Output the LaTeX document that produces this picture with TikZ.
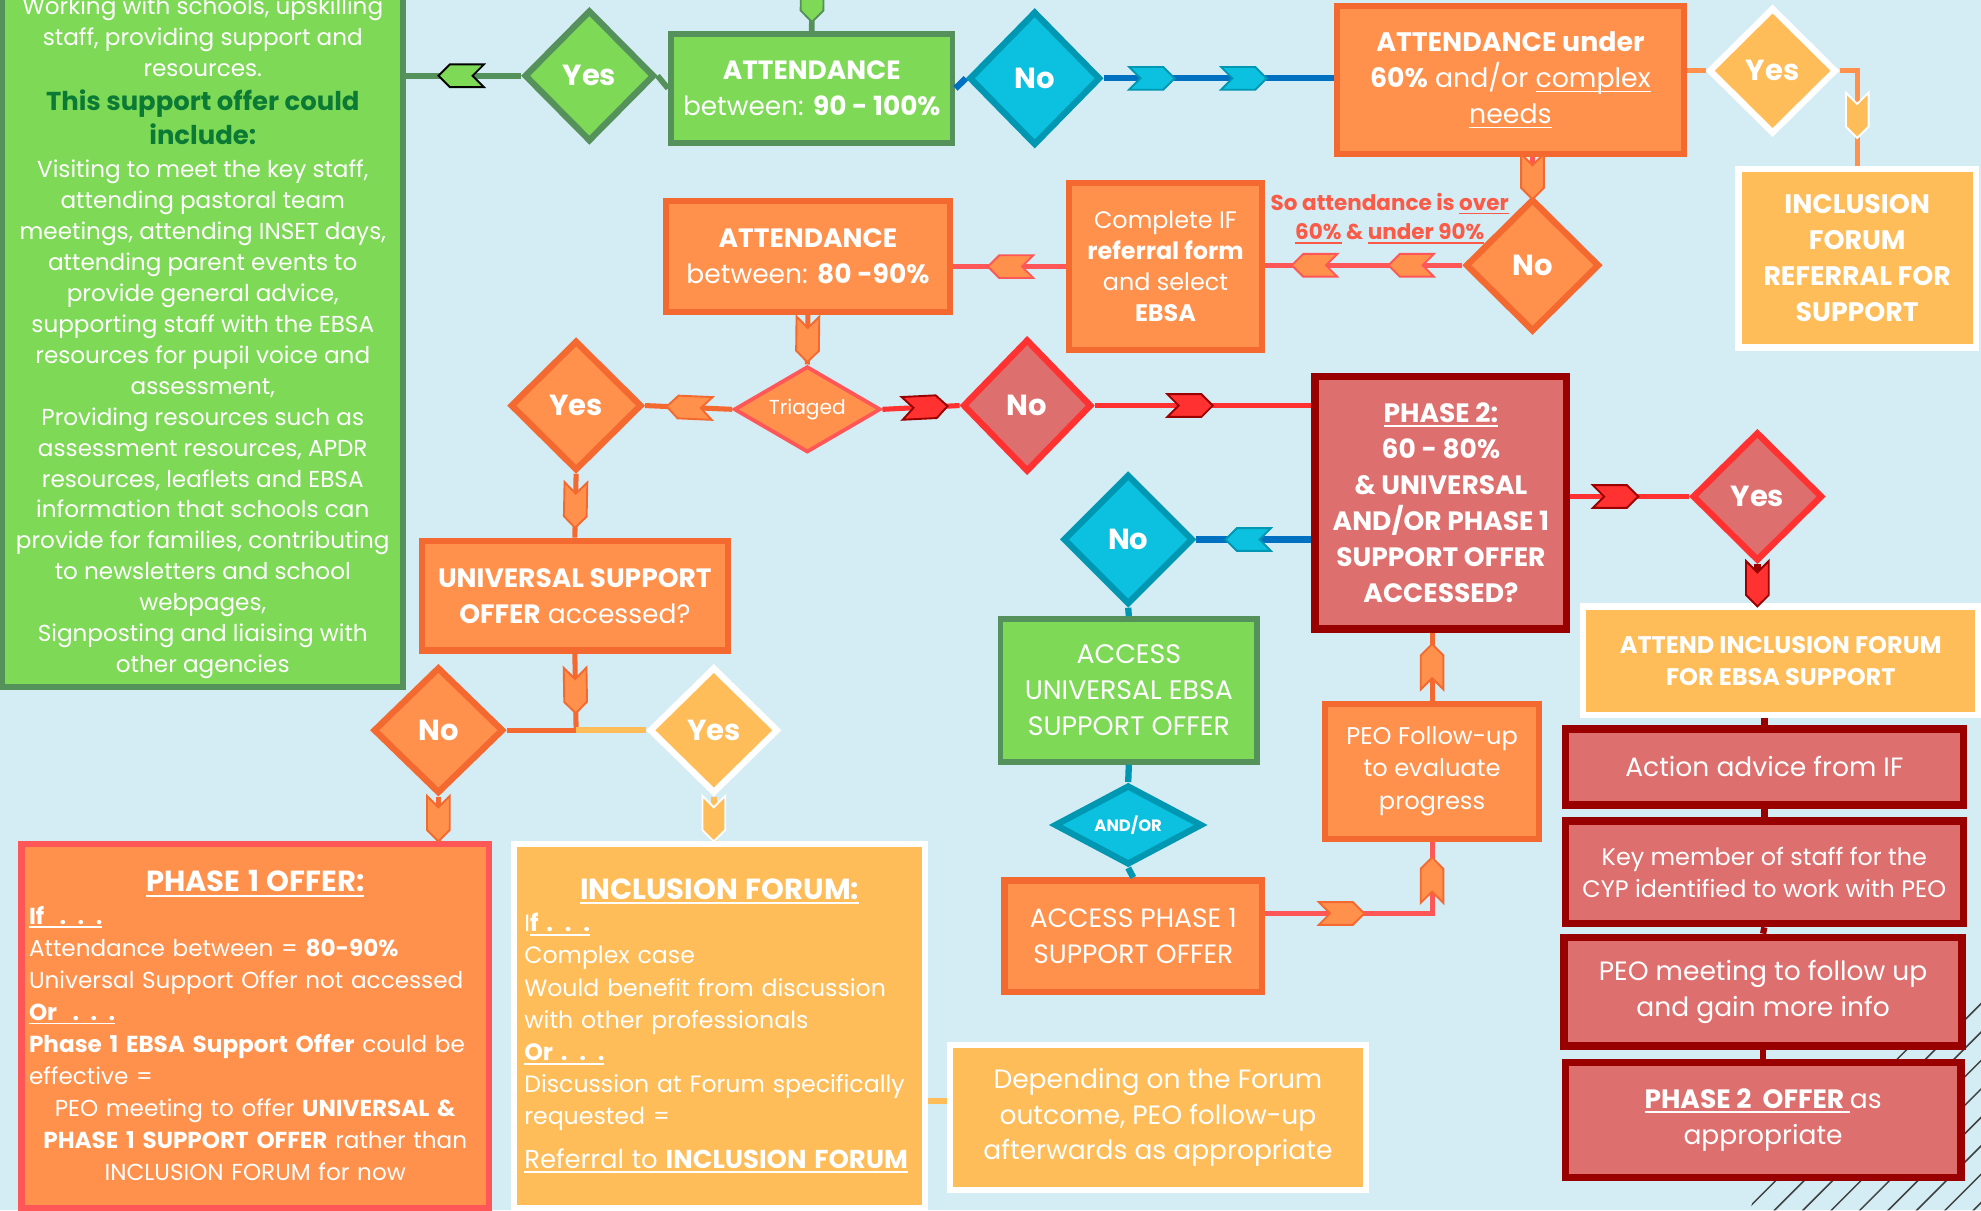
\documentclass[tikz,border=0pt]{standalone}
\usepackage{fontspec}
\setmainfont{Poppins}
\usepackage{xcolor}
\usetikzlibrary{shapes.geometric,decorations.markings}

\definecolor{bgB}{HTML}{D4ECF3}
\definecolor{grF}{HTML}{7ED957}
\definecolor{grD}{HTML}{55915B}
\definecolor{dkgT}{HTML}{0B7A35}
\definecolor{orF}{HTML}{FF914D}
\definecolor{orD}{HTML}{F4692F}
\definecolor{pkR}{HTML}{FF5757}
\definecolor{lblR}{HTML}{FA5A46}
\definecolor{yeF}{HTML}{FFBD59}
\definecolor{cyF}{HTML}{0CC0DF}
\definecolor{cyD}{HTML}{0097B2}
\definecolor{blL}{HTML}{0070C0}
\definecolor{rsF}{HTML}{DE6F6F}
\definecolor{rdB}{HTML}{FF3131}
\definecolor{dkR}{HTML}{990000}

\setlength\parindent{0pt}
\newcommand\fsz[2]{\fontsize{#1}{#2}\selectfont}
\newsavebox\ulbox
\newcommand\undl[1]{\leavevmode\sbox\ulbox{#1}\rlap{\vrule height -0.1em depth 0.17em width \wd\ulbox}\usebox\ulbox}
\newcommand\chevpath{\path[chev] (-18,-9) -- (9,-9) -- (18,0) -- (9,9) -- (-18,9) -- (-9,0) -- cycle;}

\begin{document}
\begin{tikzpicture}[x=1pt, y=-1pt,
    box/.style={rectangle, inner sep=0, align=center, text=white, font=\fsz{21}{28.5}},
    gbox/.style={box, fill=grF, draw=grD, line width=4.5},
    obox/.style={box, fill=orF, draw=orD, line width=5},
    ybox/.style={box, fill=yeF, draw=white, line width=5},
    rbox/.style={box, fill=rsF, draw=dkR, line width=6},
    dia/.style={diamond, inner sep=0, text=white, font=\fsz{23}{28}\bfseries, line width=5},
    gdia/.style={dia, fill=grF, draw=grD},
    bdia/.style={dia, fill=cyF, draw=cyD},
    odia/.style={dia, fill=orF, draw=orD},
    ydia/.style={dia, fill=yeF, draw=white},
    rdia/.style={dia, fill=rsF, draw=rdB},
    lbl/.style={align=center, inner sep=0, text=lblR, font=\fsz{17}{23}\bfseries},
    hatch/.style={draw=black!75, line width=1.2},
    chev/.style={fill=orF, draw=orD, line width=1.5},
    chv/.style={postaction={decorate,decoration={markings,mark=at position #1 with {\chevpath}}}},
    gline/.style={draw=grD, line width=4.5},
    bline/.style={draw=blL, line width=5},
    tline/.style={draw=cyD, line width=5},
    oline/.style={draw=orD, line width=4},
    lline/.style={draw=orF, line width=4},
    pline/.style={draw=pkR, line width=4},
    yline/.style={draw=yeF, line width=4.5},
    rline/.style={draw=rdB, line width=4},
    dline/.style={draw=dkR, line width=5},
    gchev/.style={chev/.style={fill=grF, draw=grD, line width=1.5}},
    kchev/.style={chev/.style={fill=grF, draw=black, line width=1.5}},
    cchev/.style={chev/.style={fill=cyF, draw=cyD, line width=1.5}},
    ochev/.style={chev/.style={fill=orF, draw=orD, line width=1.5}},
    pchev/.style={chev/.style={fill=orF, draw=pkR, line width=1.5}},
    ychev/.style={chev/.style={fill=yeF, draw=white, line width=1.5}},
    rchev/.style={chev/.style={fill=rdB, draw=dkR, line width=1.5}}
]
    \useasboundingbox (0,0) rectangle (1568,958);
    % background and corner hatching
    \fill[bgB] (0,0) rectangle (1568,958);
    \begin{scope}
        \clip (1442,789) -- (1568,789) -- (1568,958) -- (1385,958) -- cycle;
        \foreach \k in {0,...,18}
            \draw[hatch] (1370+\k*22.5,970) -- ++(220,-220);
    \end{scope}

    % left column
    \node[gbox, minimum width=317, minimum height=553, font=\fsz{18.3}{24.5}] (support) at (160.5,267.5) {Working with schools, upskilling\\staff, providing support and\\resources.\\[2.5pt]\textcolor{dkgT}{\fsz{20.5}{24.5}\bfseries This support offer could}\\[2.5pt]\textcolor{dkgT}{\fsz{20.5}{24.5}\bfseries include:}\\[1.5pt]Visiting to meet the key staff,\\attending pastoral team\\meetings, attending INSET days,\\attending parent events to\\provide general advice,\\supporting staff with the EBSA\\resources for pupil voice and\\assessment,\\Providing resources such as\\assessment resources, APDR\\resources, leaflets and EBSA\\information that schools can\\provide for families, contributing\\to newsletters and school\\webpages,\\Signposting and liaising with\\other agencies};

    % top row
    \node[gbox, minimum width=223, minimum height=86, font=\fsz{20.9}{28}] (att90) at (642.5,70) {\textbf{ATTENDANCE}\\between: \textbf{90 - 100\%}};
    \node[gdia, minimum width=103, minimum height=104] (yesG) at (466.5,60) {Yes};
    \node[bdia, minimum width=104, minimum height=106] (noT) at (819,62) {No};
    \node[obox, minimum width=275, minimum height=117, font=\fsz{21.2}{28.5}] (att60) at (1195.5,63.5) {\textbf{ATTENDANCE under}\\\textbf{60\%} and/or \undl{complex}\\\undl{needs}};
    \node[ydia, minimum width=101, minimum height=100] (yesT) at (1403,56) {Yes};
    \node[ybox, minimum width=188, minimum height=141, font=\fsz{21.2}{28.5}\bfseries] (incl) at (1470,204.5) {INCLUSION\\FORUM\\REFERRAL FOR\\SUPPORT};
    \coordinate (topin) at (643,-12);

    % second row
    \node[odia, minimum width=106, minimum height=105] (noR) at (1213,210) {No};
    \node[lbl] (soatt) at (1100,173) {So attendance is \undl{over}\\\undl{60\%} \& \undl{under 90\%}};
    \node[obox, minimum width=153, minimum height=132, font=\fsz{18.9}{24.5}] (referral) at (922.5,211) {Complete IF\\\textbf{referral form}\\and select\\\textbf{EBSA}};
    \node[obox, minimum width=225, minimum height=88, font=\fsz{21}{28.5}] (att80) at (639.5,203) {\textbf{ATTENDANCE}\\between: \textbf{80 -90\%}};

    % triage row
    \node[odia, draw=pkR, line width=3, aspect=1.7, minimum width=116, minimum height=68, font=\fsz{16}{20}] (tri) at (639,324) {Triaged};
    \node[odia, minimum width=104, minimum height=103] (yesL) at (456,321) {Yes};
    \node[rdia, minimum width=102, minimum height=105] (noM) at (813,321) {No};
    \node[obox, minimum width=242, minimum height=87] (univ) at (455,471.5) {\textbf{UNIVERSAL SUPPORT}\\\textbf{OFFER} accessed?};
    \node[odia, minimum width=103, minimum height=100] (noBL) at (347,578) {No};
    \node[ydia, minimum width=102, minimum height=100] (yesB) at (565,578) {Yes};
    \coordinate (split) at (456,578);

    % bottom left offers
    \node[obox, draw=pkR, minimum width=370, minimum height=288, text width=358, align=left, font=\fsz{18.3}{25.4}] (phase1) at (202,812) {{\centering\fsz{23}{30}\bfseries\undl{PHASE 1 OFFER:}\par}
        \textbf{\undl{If\ \ . . .}}\\
        Attendance between = \textbf{80-90\%}\\
        Universal Support Offer not accessed\\
        \textbf{\undl{Or\ \ . . .}}\\
        \textbf{Phase 1 EBSA Support Offer} could be\\
        effective =\par
        {\centering PEO meeting to offer \textbf{UNIVERSAL \&}\\
        \textbf{PHASE 1 SUPPORT OFFER} rather than\\
        INCLUSION FORUM for now\par}};
    \node[ybox, minimum width=325, minimum height=288, text width=309, align=left, font=\fsz{18.7}{25.5}] (forum) at (569.5,812) {{\centering\fsz{23}{30}\bfseries\undl{INCLUSION FORUM:}\par}
        I\textbf{\undl{f . . .}}\\
        Complex case\\
        Would benefit from discussion\\
        with other professionals\\
        \textbf{\undl{Or . . .}}\\
        Discussion at Forum specifically\\
        requested =\par
        \vspace{9pt}{\fsz{20.5}{25.5}\undl{Referral to \textbf{INCLUSION FORUM}}\par}};
    \node[ybox, minimum width=329, minimum height=115, font=\fsz{21}{28}] (depend) at (916.5,884.5) {Depending on the Forum\\outcome, PEO follow-up\\afterwards as appropriate};

    % phase 2 branch
    \node[rbox, minimum width=199, minimum height=200, font=\fsz{21}{28.5}\bfseries] (phase2) at (1140.5,398) {\undl{PHASE 2:}\\60 - 80\%\\\& UNIVERSAL\\AND/OR PHASE 1\\SUPPORT OFFER\\ACCESSED?};
    \node[bdia, minimum width=103, minimum height=103] (noC) at (893,427) {No};
    \node[gbox, minimum width=203, minimum height=113, font=\fsz{21.2}{28.5}] (access) at (893.5,546.5) {ACCESS\\UNIVERSAL EBSA\\SUPPORT OFFER};
    \node[bdia, aspect=2, minimum width=117, minimum height=63, font=\fsz{13}{16}\bfseries] (andor) at (893,653) {AND/OR};
    \node[obox, minimum width=204, minimum height=88, font=\fsz{21}{28}] (p1acc) at (897,741) {ACCESS PHASE 1\\SUPPORT OFFER};
    \node[obox, minimum width=169, minimum height=107, font=\fsz{19.1}{25.5}] (peo) at (1133.5,610.5) {PEO Follow-up\\to evaluate\\progress};

    % right column
    \node[rdia, minimum width=103, minimum height=102] (yesR) at (1391,393) {Yes};
    \node[ybox, minimum width=313, minimum height=86, font=\fsz{19}{25}\bfseries] (attend) at (1409.5,523) {ATTEND INCLUSION FORUM\\FOR EBSA SUPPORT};
    \node[rbox, minimum width=315, minimum height=60, font=\fsz{21}{28}] (action) at (1396.5,607) {Action advice from IF};
    \node[rbox, minimum width=315, minimum height=81, font=\fsz{18.9}{25}] (keymem) at (1396.5,690.5) {Key member of staff for the\\CYP identified to work with PEO};
    \node[rbox, minimum width=315, minimum height=86, font=\fsz{21}{28}] (peomeet) at (1395.5,785) {PEO meeting to follow up\\and gain more info};
    \node[rbox, minimum width=313, minimum height=91, font=\fsz{21}{28}] (p2offer) at (1395.5,886.5) {\undl{\textbf{PHASE 2\ \ OFFER\ }}as\\appropriate};

    % connectors
    \draw[gline, gchev, chv=0.31] (topin) -- (att90.north);
    \draw[gline] (att90.west) -- (yesG.east);
    \draw[gline, kchev, chv=0.52] (yesG.west) -- (yesG.west -| support.east);
    \draw[bline] (att90.east) -- (noT.west);
    \draw[bline, cchev, chv=0.21, chv=0.61] (noT.east) -- (noT.east -| att60.west);
    \draw[lline] (yesT.west -| att60.east) -- (yesT.west);
    \draw[lline, ychev, chv=0.55] (yesT.east) -| (incl.north);
    \draw[pline, ochev, chv=0.5] (noR.north |- att60.south) -- (noR.north);
    \draw[pline, pchev, chv=0.26, chv=0.75] (noR.west) -- (noR.west -| referral.east);
    \draw[pline, pchev, chv=0.49] (referral.west) -- (referral.west -| att80.east);
    \draw[oline, ochev, chv=0.49] (att80.south) -- (tri.north);
    \draw[oline, ochev, chv=0.49] (tri.west) -- (yesL.east);
    \draw[oline, ochev, chv=0.49] (yesL.south) -- (univ.north);
    \draw[oline, ochev, chv=0.48] (univ.south) -- (split);
    \draw[oline] (split) -- (noBL.east);
    \draw[yline] (split) -- (yesB.west);
    \draw[oline, ochev, chv=0.5] (noBL.south) -- (noBL.south |- phase1.north);
    \draw[yline, ychev, chv=0.5] (yesB.south) -- (yesB.south |- forum.north);
    \draw[yline] ([yshift=13pt]depend.west -| forum.east) -- ([yshift=13pt]depend.west);
    \draw[rline, rchev, chv=0.55] (tri.east) -- (noM.west);
    \draw[rline, rchev, chv=0.44] (noM.east) -- (noM.east -| phase2.west);
    \draw[bline, cchev, chv=0.55] (phase2.west |- noC.east) -- (noC.east);
    \draw[tline] (noC.south) -- (access.north);
    \draw[tline] (access.south) -- (andor.north);
    \draw[tline] (andor.south) -- (p1acc.north);
    \draw[pline, ochev, chv=0.32, chv=0.84] ([yshift=18pt]p1acc.east) -| (peo.south);
    \draw[oline, ochev, chv=0.5] (peo.north) -- (peo.north |- phase2.south);
    \draw[rline, rchev, chv=0.38] (phase2.east |- yesR.west) -- (yesR.west);
    \draw[dline, rchev, chv=0.5] (yesR.south) -- (yesR.south |- attend.north);
    \draw[dline] (action.north |- attend.south) -- (action.north);
    \draw[dline] (action.south) -- (keymem.north);
    \draw[dline] (keymem.south) -- (peomeet.north);
    \draw[dline] (peomeet.south) -- (p2offer.north);
\end{tikzpicture}
\end{document}
